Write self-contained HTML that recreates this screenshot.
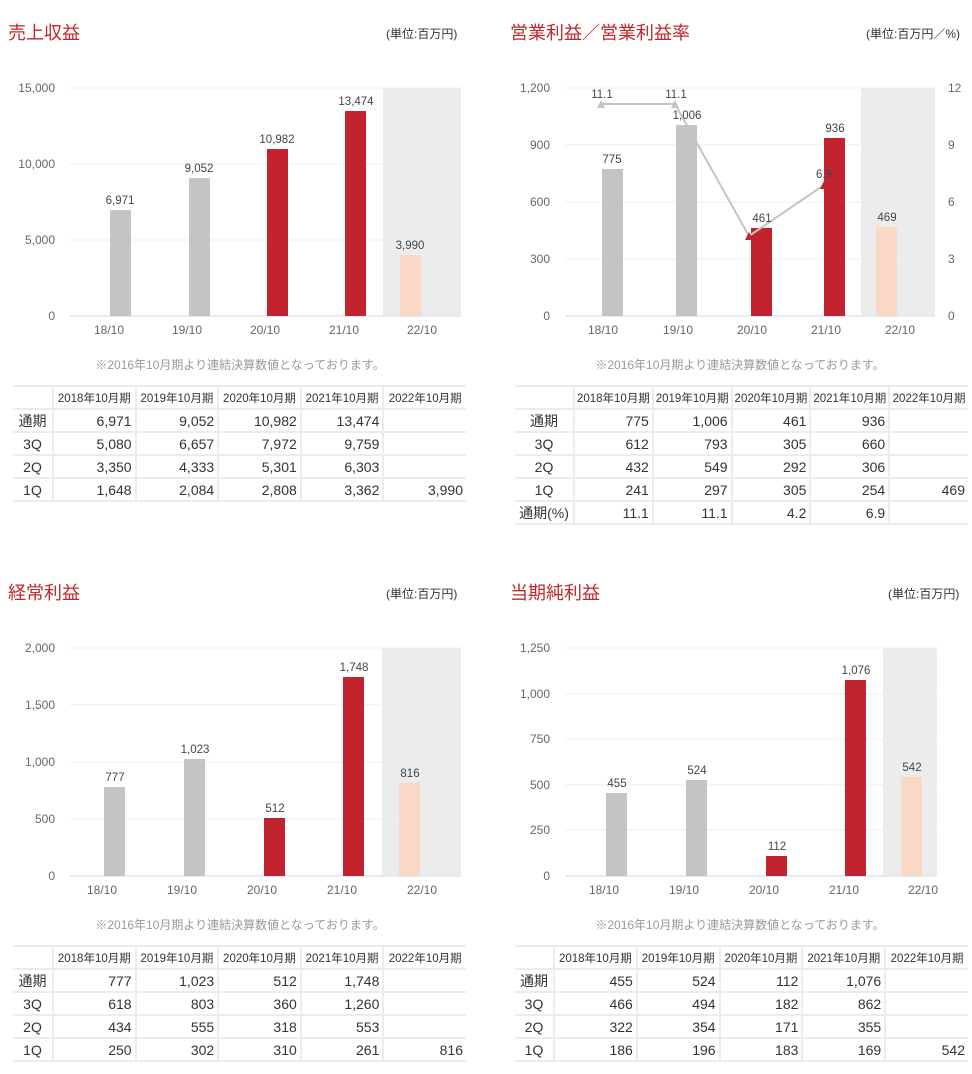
<!DOCTYPE html>
<html><head><meta charset="utf-8"><style>
*{margin:0;padding:0;box-sizing:border-box}
body{width:972px;height:1074px;background:#fff;position:relative;font-family:"Liberation Sans","Noto Sans CJK JP",sans-serif;color:#333;overflow:hidden}
.t{position:absolute;color:#c1272d;font-size:18px}
.u{position:absolute;font-size:12px;color:#333}
.n{position:absolute;font-size:12px;color:#999;text-align:center}
svg{position:absolute;left:0;top:0}
table{position:absolute;border-collapse:collapse;font-size:14px;table-layout:fixed}
td{border-bottom:2px solid #ececec;border-left:2px solid #ececec;height:23px;text-align:right;padding-right:3px;white-space:nowrap}
td:first-child{border-left:none;text-align:center;padding:0}
tr:first-child td{font-size:11.5px;text-align:center;padding:0;border-top:2px solid #ececec}
</style></head><body>
<div class="t" style="left:8px;top:19px">売上収益</div>
<div class="u" style="left:386px;top:25px">(単位:百万円)</div>
<div class="t" style="left:510px;top:19px">営業利益／営業利益率</div>
<div class="u" style="left:866px;top:25px">(単位:百万円／%)</div>
<div class="t" style="left:8px;top:579px">経常利益</div>
<div class="u" style="left:386px;top:585px">(単位:百万円)</div>
<div class="t" style="left:510px;top:579px">当期純利益</div>
<div class="u" style="left:888px;top:585px">(単位:百万円)</div>
<div class="n" style="left:0;width:480px;top:356px">※2016年10月期より連結決算数値となっております。</div>
<div class="n" style="left:500px;width:480px;top:356px">※2016年10月期より連結決算数値となっております。</div>
<div class="n" style="left:0;width:480px;top:916px">※2016年10月期より連結決算数値となっております。</div>
<div class="n" style="left:500px;width:480px;top:916px">※2016年10月期より連結決算数値となっております。</div>

<svg width="972" height="1074" font-family="Liberation Sans, sans-serif" font-size="11.5">
<g fill="#ececec"><rect x="383" y="88" width="78" height="228"/><rect x="861" y="88" width="74" height="228"/><rect x="382" y="648" width="79" height="228"/><rect x="883" y="648" width="54" height="228"/></g>
<g stroke="#eee" stroke-width="1">
<line x1="70" x2="461" y1="88" y2="88"/><line x1="70" x2="461" y1="164" y2="164"/><line x1="70" x2="461" y1="240" y2="240"/>
<line x1="565" x2="935" y1="88" y2="88"/><line x1="565" x2="935" y1="145" y2="145"/><line x1="565" x2="935" y1="202" y2="202"/><line x1="565" x2="935" y1="259" y2="259"/>
<line x1="70" x2="461" y1="648" y2="648"/><line x1="70" x2="461" y1="705" y2="705"/><line x1="70" x2="461" y1="762" y2="762"/><line x1="70" x2="461" y1="819" y2="819"/>
<line x1="565" x2="937" y1="648" y2="648"/><line x1="565" x2="937" y1="694" y2="694"/><line x1="565" x2="937" y1="739" y2="739"/><line x1="565" x2="937" y1="785" y2="785"/><line x1="565" x2="937" y1="830" y2="830"/>
</g>
<g stroke="#dde3f0" stroke-width="1.5"><line x1="70" x2="461" y1="316" y2="316"/><line x1="565" x2="935" y1="316" y2="316"/><line x1="70" x2="461" y1="876" y2="876"/><line x1="565" x2="937" y1="876" y2="876"/></g>
<rect x="110" y="210" width="21" height="106" fill="#c4c4c4"/><rect x="189" y="178" width="21" height="138" fill="#c4c4c4"/>
<rect x="267" y="149" width="21" height="167" fill="#c1242f"/><rect x="345" y="111" width="21" height="205" fill="#c1242f"/>
<rect x="400" y="255" width="21" height="61" fill="#fad8c6"/>
<g fill="#444" text-anchor="middle"><text x="120" y="204">6,971</text><text x="199" y="172">9,052</text><text x="277" y="143">10,982</text><text x="356" y="105">13,474</text><text x="410" y="249">3,990</text></g>
<rect x="602" y="169" width="21" height="147" fill="#c4c4c4"/><rect x="676" y="125" width="21" height="191" fill="#c4c4c4"/>
<rect x="751" y="228" width="21" height="88" fill="#c1242f"/><rect x="824" y="138" width="21" height="178" fill="#c1242f"/>
<rect x="876" y="227" width="21" height="89" fill="#fad8c6"/>
<polyline points="601,104 675,104 749,236 824,185" fill="none" stroke="#c4c4c4" stroke-width="2"/>
<polygon points="601,100 597,108 605,108" fill="#c4c4c4"/><polygon points="675,100 671,108 679,108" fill="#c4c4c4"/>
<polygon points="749,232 745,240 753,240" fill="#c1242f"/><polygon points="824,181 820,189 828,189" fill="#c1242f"/>
<g fill="#444" text-anchor="middle"><text x="612" y="163">775</text><text x="687" y="119">1,006</text><text x="762" y="222">461</text><text x="835" y="132">936</text><text x="887" y="221">469</text>
<text x="602" y="98">11.1</text><text x="676" y="98">11.1</text><text x="824" y="178">6.9</text></g>
<rect x="104" y="787" width="21" height="89" fill="#c4c4c4"/><rect x="184" y="759" width="21" height="117" fill="#c4c4c4"/>
<rect x="264" y="818" width="21" height="58" fill="#c1242f"/><rect x="343" y="677" width="21" height="199" fill="#c1242f"/>
<rect x="399" y="783" width="21" height="93" fill="#fad8c6"/>
<g fill="#444" text-anchor="middle"><text x="115" y="781">777</text><text x="195" y="753">1,023</text><text x="275" y="812">512</text><text x="354" y="671">1,748</text><text x="410" y="777">816</text></g>
<rect x="606" y="793" width="21" height="83" fill="#c4c4c4"/><rect x="686" y="780" width="21" height="96" fill="#c4c4c4"/>
<rect x="766" y="856" width="21" height="20" fill="#c1242f"/><rect x="845" y="680" width="21" height="196" fill="#c1242f"/>
<rect x="901" y="777" width="21" height="99" fill="#fad8c6"/>
<g fill="#444" text-anchor="middle"><text x="617" y="787">455</text><text x="697" y="774">524</text><text x="777" y="850">112</text><text x="856" y="674">1,076</text><text x="912" y="771">542</text></g>
<g fill="#666" font-size="12" text-anchor="end">
<text x="55" y="92">15,000</text><text x="55" y="168">10,000</text><text x="55" y="244">5,000</text><text x="55" y="320">0</text>
<text x="550" y="92">1,200</text><text x="550" y="149">900</text><text x="550" y="206">600</text><text x="550" y="263">300</text><text x="550" y="320">0</text>
<text x="55" y="652">2,000</text><text x="55" y="709">1,500</text><text x="55" y="766">1,000</text><text x="55" y="823">500</text><text x="55" y="880">0</text>
<text x="550" y="652">1,250</text><text x="550" y="698">1,000</text><text x="550" y="743">750</text><text x="550" y="789">500</text><text x="550" y="834">250</text><text x="550" y="880">0</text>
</g>
<g fill="#666" font-size="12">
<text x="948" y="92">12</text><text x="948" y="149">9</text><text x="948" y="206">6</text><text x="948" y="263">3</text><text x="948" y="320">0</text>
</g>
<g fill="#666" font-size="12" text-anchor="middle">
<text x="109" y="334">18/10</text><text x="187" y="334">19/10</text><text x="265" y="334">20/10</text><text x="344" y="334">21/10</text><text x="422" y="334">22/10</text>
<text x="603" y="334">18/10</text><text x="678" y="334">19/10</text><text x="752" y="334">20/10</text><text x="826" y="334">21/10</text><text x="900" y="334">22/10</text>
<text x="102" y="894">18/10</text><text x="182" y="894">19/10</text><text x="262" y="894">20/10</text><text x="342" y="894">21/10</text><text x="422" y="894">22/10</text>
<text x="604" y="894">18/10</text><text x="684" y="894">19/10</text><text x="764" y="894">20/10</text><text x="844" y="894">21/10</text><text x="923" y="894">22/10</text>
</g>
</svg>

<table style="left:13px;top:385px;width:453px"><colgroup><col style="width:40px"><col span="5" style="width:82.6px"></colgroup>
<tr><td></td><td>2018年10月期</td><td>2019年10月期</td><td>2020年10月期</td><td>2021年10月期</td><td>2022年10月期</td></tr>
<tr><td>通期</td><td>6,971</td><td>9,052</td><td>10,982</td><td>13,474</td><td></td></tr>
<tr><td>3Q</td><td>5,080</td><td>6,657</td><td>7,972</td><td>9,759</td><td></td></tr>
<tr><td>2Q</td><td>3,350</td><td>4,333</td><td>5,301</td><td>6,303</td><td></td></tr>
<tr><td>1Q</td><td>1,648</td><td>2,084</td><td>2,808</td><td>3,362</td><td>3,990</td></tr>
</table>
<table style="left:515px;top:385px;width:453px"><colgroup><col style="width:59px"><col span="5" style="width:78.8px"></colgroup>
<tr><td></td><td>2018年10月期</td><td>2019年10月期</td><td>2020年10月期</td><td>2021年10月期</td><td>2022年10月期</td></tr>
<tr><td>通期</td><td>775</td><td>1,006</td><td>461</td><td>936</td><td></td></tr>
<tr><td>3Q</td><td>612</td><td>793</td><td>305</td><td>660</td><td></td></tr>
<tr><td>2Q</td><td>432</td><td>549</td><td>292</td><td>306</td><td></td></tr>
<tr><td>1Q</td><td>241</td><td>297</td><td>305</td><td>254</td><td>469</td></tr>
<tr><td>通期(%)</td><td>11.1</td><td>11.1</td><td>4.2</td><td>6.9</td><td></td></tr>
</table>
<table style="left:13px;top:945px;width:453px"><colgroup><col style="width:40px"><col span="5" style="width:82.6px"></colgroup>
<tr><td></td><td>2018年10月期</td><td>2019年10月期</td><td>2020年10月期</td><td>2021年10月期</td><td>2022年10月期</td></tr>
<tr><td>通期</td><td>777</td><td>1,023</td><td>512</td><td>1,748</td><td></td></tr>
<tr><td>3Q</td><td>618</td><td>803</td><td>360</td><td>1,260</td><td></td></tr>
<tr><td>2Q</td><td>434</td><td>555</td><td>318</td><td>553</td><td></td></tr>
<tr><td>1Q</td><td>250</td><td>302</td><td>310</td><td>261</td><td>816</td></tr>
</table>
<table style="left:515px;top:945px;width:453px"><colgroup><col style="width:39px"><col span="5" style="width:82.8px"></colgroup>
<tr><td></td><td>2018年10月期</td><td>2019年10月期</td><td>2020年10月期</td><td>2021年10月期</td><td>2022年10月期</td></tr>
<tr><td>通期</td><td>455</td><td>524</td><td>112</td><td>1,076</td><td></td></tr>
<tr><td>3Q</td><td>466</td><td>494</td><td>182</td><td>862</td><td></td></tr>
<tr><td>2Q</td><td>322</td><td>354</td><td>171</td><td>355</td><td></td></tr>
<tr><td>1Q</td><td>186</td><td>196</td><td>183</td><td>169</td><td>542</td></tr>
</table>
</body></html>
